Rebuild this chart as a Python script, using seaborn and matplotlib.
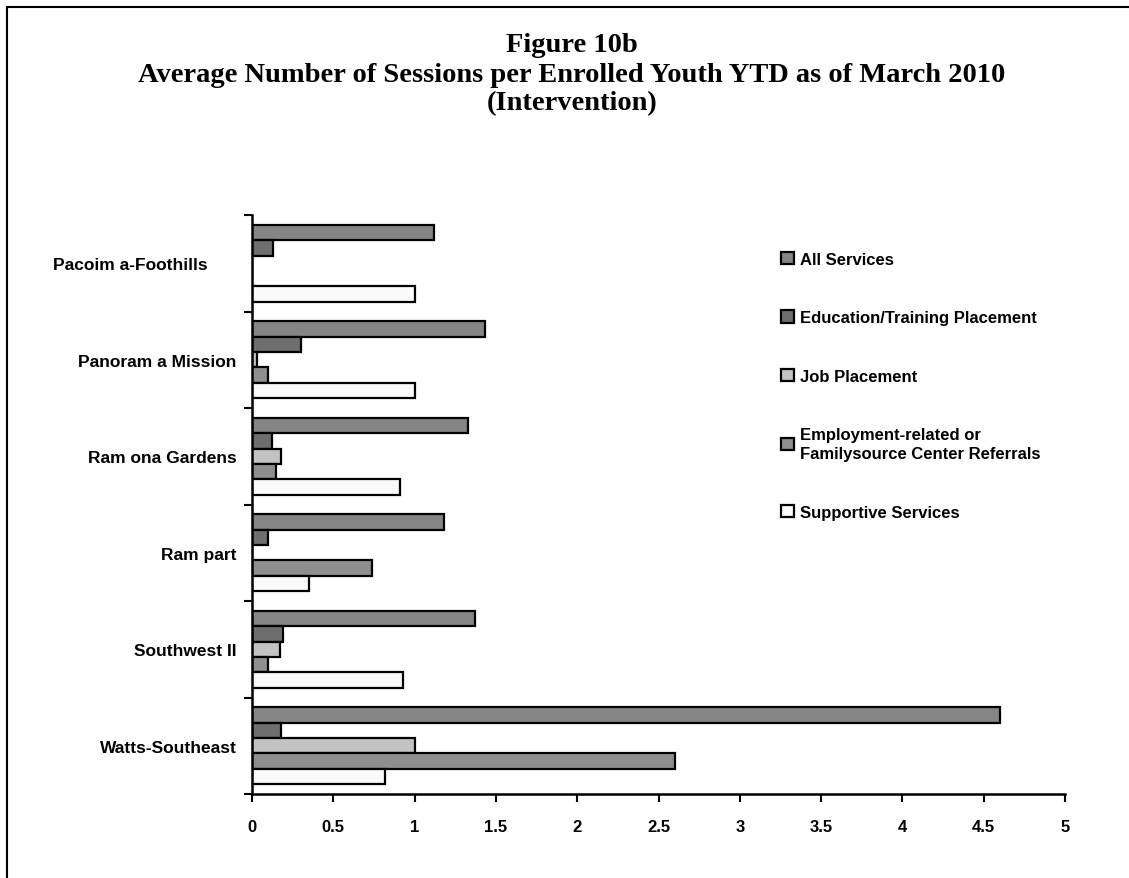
import matplotlib
matplotlib.use("Agg")
import matplotlib.pyplot as plt
from matplotlib.lines import Line2D
import seaborn as sns
import pandas as pd

# Sites (y categories) and service series
sites = ["Pacoima-Foothills", "Panorama Mission", "Ramona Gardens",
         "Rampart", "Southwest II", "Watts-Southeast"]
site_labels = ["Pacoim a-Foothills      ", "Panoram a Mission", "Ram ona Gardens",
               "Ram part", "Southwest II", "Watts-Southeast"]
series = ["All Services", "Education/Training Placement", "Job Placement",
          "Employment-related or\nFamilysource Center Referrals",
          "Supportive Services"]

all_services = [1.12, 1.43, 1.33, 1.18, 1.37, 4.60]
education_training = [0.13, 0.30, 0.12, 0.10, 0.19, 0.18]
job_placement = [0.00, 0.03, 0.18, 0.00, 0.17, 1.00]
employment_referrals = [0.00, 0.10, 0.15, 0.74, 0.10, 2.60]
supportive_services = [1.00, 1.00, 0.91, 0.35, 0.93, 0.82]

x_ticks = [0, 0.5, 1, 1.5, 2, 2.5, 3, 3.5, 4, 4.5, 5]
x_tick_labels = ["0", "0.5", "1", "1.5", "2", "2.5", "3", "3.5", "4", "4.5", "5"]

values = [all_services, education_training, job_placement,
          employment_referrals, supportive_services]
rows = []
for name, vals in zip(series, values):
    for site, v in zip(sites, vals):
        rows.append({"Site": site, "Service": name, "Sessions": v})
df = pd.DataFrame(rows)

palette = {series[0]: "#858585", series[1]: "#6e6e6e", series[2]: "#c3c3c3",
           series[3]: "#8f8f8f", series[4]: "#fafafa"}

sns.set_theme(style="white")
plt.rcParams["font.family"] = ["Liberation Sans", "DejaVu Sans"]
plt.rcParams["text.color"] = "black"
plt.rcParams["xtick.color"] = "black"
plt.rcParams["ytick.color"] = "black"

fig = plt.figure(figsize=(11.29, 8.79), dpi=100)
ax = fig.add_axes([252 / 1129, 1 - 795 / 879, (1065 - 252) / 1129, (795 - 216) / 879])

sns.barplot(data=df, y="Site", x="Sessions", hue="Service", order=sites,
            hue_order=series, palette=palette, orient="h", width=0.8,
            edgecolor="black", linewidth=1.6, saturation=1, ax=ax,
            legend=True)

ax.set_xlim(0, 5)
ax.set_ylim(5.5, -0.5)
ax.set_xlabel("")
ax.set_ylabel("")
ax.set_xticks(x_ticks)
ax.set_xticklabels(x_tick_labels, fontsize=12, fontweight="bold")
ax.set_yticks(range(len(sites)))
ax.set_yticklabels(site_labels, fontsize=12.5, fontweight="bold")
ax.set_yticks([i - 0.5 for i in range(len(sites) + 1)], minor=True)
ax.tick_params(axis="y", which="major", length=0, pad=11)
ax.tick_params(axis="y", which="minor", left=True, length=6, width=1.5,
               direction="out", color="black")
ax.tick_params(axis="x", which="major", bottom=True, length=6, width=1.5,
               direction="out", color="black", pad=12)

for side in ["top", "right"]:
    ax.spines[side].set_visible(False)
for side in ["left", "bottom"]:
    ax.spines[side].set_color("black")
    ax.spines[side].set_linewidth(1.8)

handles, labels = ax.get_legend_handles_labels()
leg = ax.legend(handles, labels, loc="upper left",
                bbox_to_anchor=(766 / 1129, 1 - 238 / 879),
                bbox_transform=fig.transFigure, frameon=False,
                prop={"size": 12, "weight": "bold"}, handlelength=0.75,
                handleheight=0.75, handletextpad=0.4, labelspacing=2.6)
for t in leg.get_texts():
    t.set_linespacing(1.35)

title_kw = dict(ha="center", va="center", fontsize=20.5, fontweight="bold",
                family=["Liberation Serif", "DejaVu Serif"])
fig.text(572 / 1129, 1 - 45 / 879, "Figure 10b", **title_kw)
fig.text(572 / 1129, 1 - 75 / 879,
         "Average Number of Sessions per Enrolled Youth YTD as of March 2010",
         **title_kw)
fig.text(572 / 1129, 1 - 104 / 879, "(Intervention)", **title_kw)

# page frame
fig.add_artist(Line2D([7 / 1129, 7 / 1129], [0, 1 - 8 / 879],
                      transform=fig.transFigure, color="black", lw=1.5))
fig.add_artist(Line2D([7 / 1129, 1], [1 - 8 / 879, 1 - 8 / 879],
                      transform=fig.transFigure, color="black", lw=1.5))

fig.savefig("out.png", dpi=100, facecolor="white")
